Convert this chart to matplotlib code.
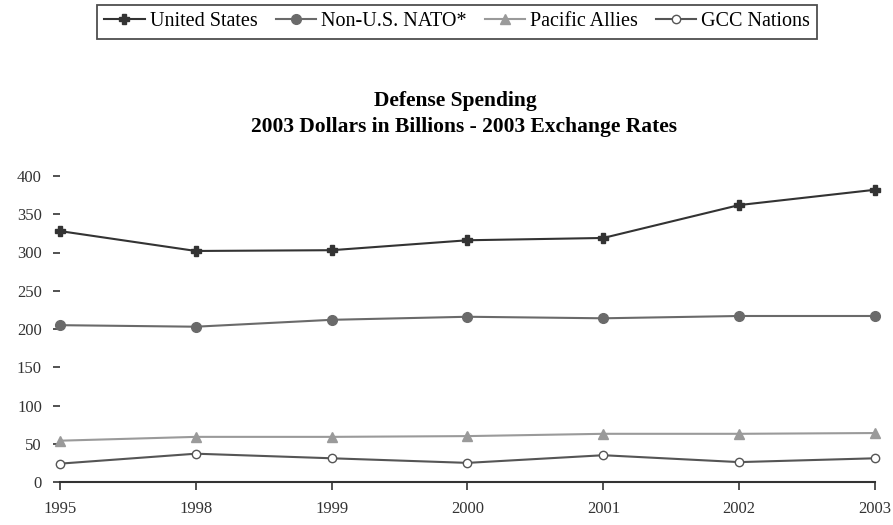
import matplotlib.pyplot as plt

plt.rcParams['font.family'] = ['Liberation Serif', 'DejaVu Serif']

years = ['1995', '1998', '1999', '2000', '2001', '2002', '2003']
us = [328, 302, 303, 316, 319, 362, 382]
nato = [205, 203, 212, 216, 214, 217, 217]
pacific = [54, 59, 59, 60, 63, 63, 64]
gcc = [24, 37, 31, 25, 35, 26, 31]

x = range(len(years))

fig = plt.figure(figsize=(8.93, 5.25), dpi=100)
ax = fig.add_axes([60 / 893, 1 - 482 / 525, 815 / 893, 306 / 525])

ax.plot(x, us, color='#333333', marker='P', markersize=7, lw=1.5, label='United States', clip_on=False)
ax.plot(x, nato, color='#6a6a6a', marker='o', markersize=7, lw=1.5, label='Non-U.S. NATO*', clip_on=False)
ax.plot(x, pacific, color='#9a9a9a', marker='^', markersize=7, lw=1.5, label='Pacific Allies', clip_on=False)
ax.plot(x, gcc, color='#555555', marker='o', markersize=6, markerfacecolor='white', lw=1.5,
        label='GCC Nations', clip_on=False)

ax.set_xlim(0, 6)
ax.set_ylim(0, 400)
ax.set_xticks(list(x))
ax.set_xticklabels(years)
ax.set_yticks(range(0, 401, 50))

for s in ['top', 'right', 'left']:
    ax.spines[s].set_visible(False)
ax.spines['bottom'].set_linewidth(1.5)
ax.spines['bottom'].set_color('#333333')
ax.tick_params(axis='x', length=6, width=1.2, colors='#333333', labelsize=12, pad=8)
ax.tick_params(axis='y', length=5, width=1.2, colors='#333333', labelsize=12, pad=8)

fig.text(0.51, 0.807, 'Defense Spending', ha='center', va='center', fontsize=15.5, fontweight='bold')
fig.text(0.52, 0.758, '2003 Dollars in Billions - 2003 Exchange Rates', ha='center', va='center',
         fontsize=15.5, fontweight='bold')

leg = fig.legend(loc='upper center', bbox_to_anchor=(0.512, 1.009), ncol=4, frameon=True, fancybox=False,
                 fontsize=14.5, handlelength=2.0, columnspacing=0.9, handletextpad=0.25, borderpad=0.35)
leg.get_frame().set_edgecolor('#222222')
leg.get_frame().set_linewidth(1.3)

fig.savefig('out.png', dpi=100)
